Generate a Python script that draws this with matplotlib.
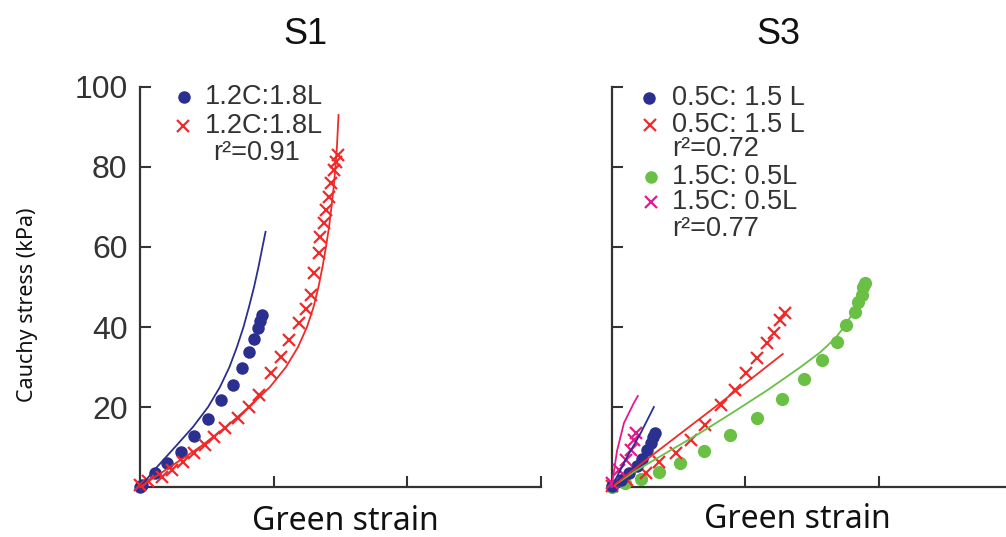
#!/usr/bin/env python3

from __future__ import annotations

import matplotlib

matplotlib.use("Agg")
import matplotlib.pyplot as plt


BLUE = "#2b3090"
RED = "#f02a2a"
GREEN = "#6abf45"
MAGENTA = "#e8188c"
AXIS_GREY = "#333333"

# S1: 1.2C:1.8L, measured (markers) and model fit (line)
s1_meas_strain = [0.0, 0.0013, 0.0111, 0.0198, 0.0310, 0.0403, 0.0507, 0.0602, 0.0693,
                  0.0760, 0.0817, 0.0849, 0.0879, 0.0899, 0.0916]
s1_meas_stress = [0.0, 0.5, 3.4, 6.1, 8.8, 12.75, 16.9, 21.75, 25.5,
                  29.7, 33.8, 36.9, 39.7, 41.6, 43.0]
s1_fit_strain = [0.0, 0.0127, 0.0262, 0.0396, 0.0509, 0.0598, 0.0669, 0.0725, 0.0774,
                 0.0815, 0.0853, 0.0886, 0.0916, 0.0939]
s1_fit_stress = [0.0, 5.0, 10.0, 15.0, 20.0, 25.0, 30.0, 35.0, 40.0,
                 45.0, 50.0, 55.0, 60.0, 63.8]

s1_meas2_strain = [0.0, 0.006, 0.0161, 0.0236, 0.0322, 0.0403, 0.0488, 0.0557, 0.0637,
                   0.0730, 0.0817, 0.0892, 0.0978, 0.1053, 0.1114, 0.1189, 0.1238,
                   0.1276, 0.1300, 0.1337, 0.1350, 0.1374, 0.1392, 0.1412, 0.1432,
                   0.1449, 0.1466, 0.1481]
s1_meas2_stress = [0.5, 1.5, 2.6, 4.25, 6.3, 8.4, 10.5, 12.6, 14.7,
                   17.2, 20.0, 23.0, 28.4, 32.6, 36.75, 41.0, 44.6,
                   48.0, 53.4, 58.4, 62.6, 66.0, 69.25, 72.6, 76.0,
                   79.25, 81.3, 83.0]
s1_fit2_strain = [0.0, 0.0224, 0.0449, 0.0643, 0.0815, 0.0972, 0.1092, 0.1182, 0.1249,
                  0.1298, 0.1335, 0.1365, 0.1391, 0.1414, 0.1432, 0.1449, 0.1462,
                  0.1473, 0.1485]
s1_fit2_stress = [0.0, 5.0, 10.0, 15.0, 20.0, 25.0, 30.0, 35.0, 40.0,
                  45.0, 50.0, 55.0, 60.0, 65.0, 70.0, 75.0, 80.0,
                  85.0, 93.0]

# S3: 0.5C:1.5L and 1.5C:0.5L
s3_blue_strain = [0.0, 0.0067, 0.0129, 0.0192, 0.0229, 0.0266, 0.0291, 0.0311, 0.0321]
s3_blue_stress = [0.3, 1.75, 3.4, 5.25, 7.1, 9.25, 10.9, 12.6, 13.4]
s3_blue_fit_strain = [0.0, 0.0117, 0.0216, 0.0316]
s3_blue_fit_stress = [0.0, 7.6, 13.4, 20.0]

s3_red_strain = [0.0, 0.0117, 0.0254, 0.0353, 0.0478, 0.0590, 0.0701, 0.0819, 0.0925,
                 0.1007, 0.1087, 0.1162, 0.1216, 0.1261, 0.1299]
s3_red_stress = [0.3, 1.75, 3.6, 6.3, 8.4, 11.75, 15.5, 20.5, 24.25,
                 28.4, 32.2, 36.1, 38.6, 41.75, 43.4]
s3_red_fit_strain = [0.0, 0.029, 0.0813, 0.128]
s3_red_fit_stress = [0.0, 7.6, 21.0, 33.25]

s3_green_strain = [0.0, 0.0097, 0.0216, 0.0353, 0.0510, 0.0689, 0.0888, 0.1087, 0.1274,
                   0.1440, 0.1572, 0.1684, 0.1757, 0.1821, 0.1846, 0.1871, 0.1883, 0.1896]
s3_green_stress = [0.0, 1.0, 2.0, 3.8, 5.9, 9.1, 13.0, 17.3, 21.9,
                   26.9, 31.75, 36.3, 40.5, 43.8, 46.3, 48.0, 50.0, 51.0]
s3_green_fit_strain = [0.0, 0.0165, 0.0419, 0.0666, 0.0912, 0.1167, 0.1414, 0.1563,
                       0.1675, 0.1750, 0.1795]
s3_green_fit_stress = [0.0, 3.75, 8.75, 13.6, 18.75, 24.25, 30.0, 33.75,
                       37.25, 40.5, 43.0]

s3_magenta_strain = [0.0, 0.0054, 0.0104, 0.0142, 0.0166, 0.0179]
s3_magenta_stress = [1.0, 4.25, 6.75, 9.25, 11.75, 13.5]
s3_magenta_fit_strain = [0.0, 0.004, 0.0092, 0.0166, 0.0196]
s3_magenta_fit_stress = [0.0, 9.0, 16.0, 21.0, 22.75]

x_ticks = [0.1, 0.2, 0.3]
y_ticks = [20, 40, 60, 80, 100]

LABEL_FONT = ["Liberation Sans", "DejaVu Sans"]
TITLE_FONT = ["Liberation Sans", "DejaVu Sans"]
AXLABEL_FONT = ["Noto Sans", "DejaVu Sans"]
KEY_SIZE = 19.5


def style_axes(ax, show_labels: bool) -> None:
    ax.set_xlim(0, 0.3)
    ax.set_ylim(0, 100)
    for side in ("top", "right"):
        ax.spines[side].set_visible(False)
    for side in ("left", "bottom"):
        ax.spines[side].set_color(AXIS_GREY)
        ax.spines[side].set_linewidth(1.6)
    ax.set_xticks(x_ticks)
    ax.set_xticklabels([])
    ax.set_yticks(y_ticks)
    if show_labels:
        ax.set_yticklabels([str(v) for v in y_ticks], family=LABEL_FONT,
                           fontsize=23, color=AXIS_GREY)
    else:
        ax.set_yticklabels([])
    ax.tick_params(direction="in", length=8, width=1.5, color=AXIS_GREY, pad=9)
    ax.patch.set_alpha(0)


def dots(ax, x, y, color, size=9.5):
    ax.plot(x, y, "o", color=color, markersize=size, markeredgewidth=0,
            clip_on=False, zorder=3)


def crosses(ax, x, y, color, size=8.5):
    ax.plot(x, y, "x", color=color, markersize=size, markeredgewidth=1.6,
            clip_on=False, zorder=3)


def fit(ax, x, y, color):
    ax.plot(x, y, "-", color=color, linewidth=1.3, clip_on=False, zorder=4,
            solid_joinstyle="round")


def key(ax, x, y, marker, color, label, text_x):
    if marker == "o":
        ax.plot([x], [y], "o", color=color, markersize=9, markeredgewidth=0,
                transform=ax.transAxes, clip_on=False)
    else:
        ax.plot([x], [y], "x", color=color, markersize=8.5, markeredgewidth=1.6,
                transform=ax.transAxes, clip_on=False)
    note(ax, text_x, y, label)


def note(ax, x, y, label):
    ax.text(x, y, label, transform=ax.transAxes, va="center", ha="left",
            family=LABEL_FONT, fontsize=KEY_SIZE, color=AXIS_GREY)


def main() -> None:
    fig = plt.figure(figsize=(10.06, 5.37), dpi=100)
    fig.patch.set_facecolor("white")

    ax1 = fig.add_axes([0.1392, 0.0931, 0.3986, 0.7449])
    ax2 = fig.add_axes([0.608, 0.0931, 0.3986, 0.7449])

    # S1
    style_axes(ax1, True)
    dots(ax1, s1_meas_strain, s1_meas_stress, BLUE, 9)
    crosses(ax1, s1_meas2_strain, s1_meas2_stress, RED)
    fit(ax1, s1_fit_strain, s1_fit_stress, BLUE)
    fit(ax1, s1_fit2_strain, s1_fit2_stress, RED)
    key(ax1, 0.110, 0.975, "o", BLUE, "1.2C:1.8L", 0.162)
    key(ax1, 0.107, 0.902, "x", RED, "1.2C:1.8L", 0.162)
    note(ax1, 0.182, 0.835, "r²=0.91")

    # S3
    style_axes(ax2, False)
    dots(ax2, s3_green_strain, s3_green_stress, GREEN)
    crosses(ax2, s3_red_strain, s3_red_stress, RED)
    dots(ax2, s3_blue_strain, s3_blue_stress, BLUE, 9)
    crosses(ax2, s3_magenta_strain, s3_magenta_stress, MAGENTA)
    fit(ax2, s3_green_fit_strain, s3_green_fit_stress, GREEN)
    fit(ax2, s3_red_fit_strain, s3_red_fit_stress, RED)
    fit(ax2, s3_blue_fit_strain, s3_blue_fit_stress, BLUE)
    fit(ax2, s3_magenta_fit_strain, s3_magenta_fit_stress, MAGENTA)
    key(ax2, 0.093, 0.972, "o", BLUE, "0.5C: 1.5 L", 0.150)
    key(ax2, 0.095, 0.905, "x", RED, "0.5C: 1.5 L", 0.150)
    note(ax2, 0.150, 0.845, "r²=0.72")
    key(ax2, 0.098, 0.775, "o", GREEN, "1.5C: 0.5L", 0.150)
    key(ax2, 0.098, 0.712, "x", MAGENTA, "1.5C: 0.5L", 0.150)
    note(ax2, 0.150, 0.645, "r²=0.77")

    # titles and axis labels
    fig.text(305 / 1006, 1 - 35 / 537, "S1", ha="center", va="center",
             family=TITLE_FONT, fontsize=26, color="#111111")
    fig.text(778 / 1006, 1 - 35 / 537, "S3", ha="center", va="center",
             family=TITLE_FONT, fontsize=26, color="#111111")
    fig.text(345 / 1006, 1 - 522 / 537, "Green strain", ha="center", va="center",
             family=AXLABEL_FONT, fontsize=23, color="#111111")
    fig.text(797 / 1006, 1 - 519 / 537, "Green strain", ha="center", va="center",
             family=AXLABEL_FONT, fontsize=23, color="#111111")
    fig.text(28 / 1006, 1 - 305 / 537, "Cauchy stress (kPa)", ha="center", va="center",
             rotation=90, family=AXLABEL_FONT, fontsize=15.5, color="#111111")

    fig.savefig("out.png", dpi=100)
    plt.close(fig)


if __name__ == "__main__":
    main()
